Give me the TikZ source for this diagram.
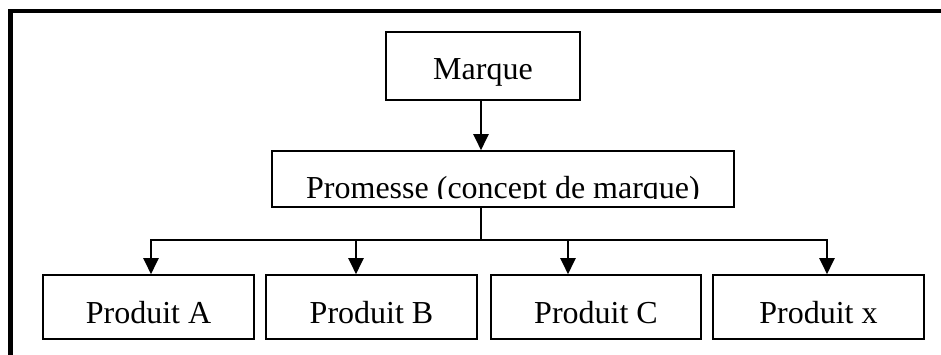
\documentclass[tikz,border=0pt]{standalone}
\usepackage{fontspec}
\setmainfont{Liberation Serif}
\usetikzlibrary{arrows.meta}
\begin{document}
\begin{tikzpicture}[x=1bp,y=-1bp,
  box/.style={draw,line width=1.6bp,rectangle,inner sep=0pt},
  lbl/.style={anchor=base,inner sep=0pt,font=\fontsize{32bp}{38bp}\selectfont},
  arr/.style={line width=2.2bp,-{Triangle[width=15bp,length=16bp]}},
  feed/.style={line width=1.3bp},
]
\useasboundingbox (0,0) rectangle (941,354);
% white page, overshooting the page edges
\fill[white] (-10,-10) rectangle (960,370);

% outer frame (left and top edges only)
\draw[line width=4.5bp] (10.5,370) -- (10.5,11) -- (960,11);

% boxes
\node[box,minimum width=194bp,minimum height=68bp] (marque) at (483,66) {};
\node[box,minimum width=462bp,minimum height=56bp] (promesse) at (503,179) {};
\node[box,minimum width=211bp,minimum height=64bp] (pa) at (148.5,307) {};
\node[box,minimum width=211bp,minimum height=64bp] (pb) at (371.5,307) {};
\node[box,minimum width=210bp,minimum height=64bp] (pc) at (596,307) {};
\node[box,minimum width=211bp,minimum height=64bp] (px) at (818.5,307) {};

% labels
\node[lbl] (tmarque) at (483,79) {Marque};
\begin{scope}
  \clip (273,152) rectangle (733,198.5);
  \node[lbl] (tpromesse) at (503,198) {Promesse (concept de marque)};
\end{scope}
\node[lbl] (tpa) at (148.5,323) {Produit A};
\node[lbl] (tpb) at (371.5,323) {Produit B};
\node[lbl] (tpc) at (596,323) {Produit C};
\node[lbl] (tpx) at (818.5,323) {Produit x};

% distribution bar
\coordinate (tap) at (481,240);
\coordinate (busL) at (151,240);
\coordinate (busR) at (827,240);
\coordinate (tb) at (356,240);
\coordinate (tc) at (568,240);

% connectors
\draw[arr] (marque.south -| tap) -- (promesse.north -| tap);
\draw[feed] (promesse.south -| tap) -- (tap);
\draw[arr] (tap) -- (busL) -- (busL |- pa.north);
\draw[arr] (tap) -- (busR) -- (busR |- px.north);
\draw[arr] (tb) -- (tb |- pb.north);
\draw[arr] (tc) -- (tc |- pc.north);
\end{tikzpicture}
\end{document}
